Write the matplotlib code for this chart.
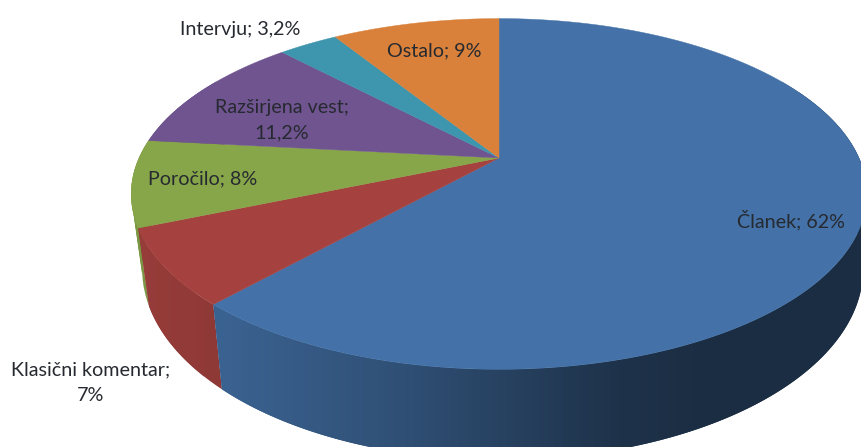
import numpy as np
import matplotlib
matplotlib.use('Agg')
import matplotlib.pyplot as plt
from matplotlib.patches import Polygon

# slices, clockwise from 12 o'clock
vrste = ['Članek', 'Klasični komentar', 'Poročilo', 'Razširjena vest', 'Intervju', 'Ostalo']
deleži = [62, 7, 8, 11.2, 3.2, 9]
barve = ['#4472a8', '#a5423f', '#87a549', '#6f5490', '#3d96ae', '#d9813a']

# label text
oznake = ['Članek; 62%', 'Klasični komentar;\n7%', 'Poročilo; 8%',
          'Razširjena vest;\n11,2%', 'Intervju; 3,2%', 'Ostalo; 9%']
oznake_x = [791, 91, 203, 282, 240, 434]
oznake_y = [220, 383, 179, 120, 29, 51]

# perspective pie, in pixels
cx, cy = 499, 158
A, B, k = 360, 168, 0.205
globina = 72


def tocka(t):
    u, v = np.sin(t), np.cos(t)
    w = 1 + k * v
    return cx + A * u / w, cy - B * v / w, w


def spodaj(t):
    x, y, w = tocka(t)
    # sides lean inwards going down, more on the left
    return cx + (x - cx) * np.where(x < cx, 0.97, 0.99), y + globina / w


fig = plt.figure(figsize=(8.61, 4.47), dpi=100)
ax = fig.add_axes([0, 0, 1, 1])
ax.axis('off')

meje = np.concatenate([[0], np.cumsum(deleži)]) / sum(deleži) * 2 * np.pi

# side wall, back slices first, shade runs left to right
px = np.arange(120, 870)
senca = np.interp(px, [130, 225, 400, 500, 620, 700, 861], [0.92, 0.86, 0.7, 0.58, 0.44, 0.4, 0.4])
for i in reversed(range(len(deleži))):
    a = max(meje[i], np.radians(60))
    b = min(meje[i + 1], np.radians(300))
    if a >= b:
        continue
    rgb = np.array(matplotlib.colors.to_rgb(barve[i]))
    slika = (senca[:, None] * rgb)[None, :, :]
    # short overlapping pieces, so the wall also fills round the left bend
    n = int(np.degrees(b - a) / 5) + 1
    koraki = np.linspace(a, b, n + 1)
    for j in range(n):
        koti = np.linspace(koraki[j], koraki[min(j + 2, n)], 30)
        x, y, _ = tocka(koti)
        xs, ys = spodaj(koti)
        rob = Polygon(np.c_[np.r_[x, xs[::-1]], np.r_[y, ys[::-1]]], closed=True,
                      transform=ax.transData, fc='none', ec='none')
        ax.add_patch(rob)
        im = ax.imshow(slika, extent=(120, 870, 447, 0), aspect='auto', interpolation='bilinear')
        im.set_clip_path(rob)

# top surface
for i in range(len(deleži)):
    koti = np.linspace(meje[i], meje[i + 1], 200)
    x, y, _ = tocka(koti)
    ax.fill(np.r_[cx, x], np.r_[cy, y], color=barve[i], lw=0.3)

for besedilo, x, y in zip(oznake, oznake_x, oznake_y):
    ax.text(x, y, besedilo, ha='center', va='center', fontsize=14.2, family='Lato',
            color='#262a30', linespacing=1.6)

ax.set_xlim(0, 861)
ax.set_ylim(447, 0)

fig.savefig('out.png', dpi=100)
